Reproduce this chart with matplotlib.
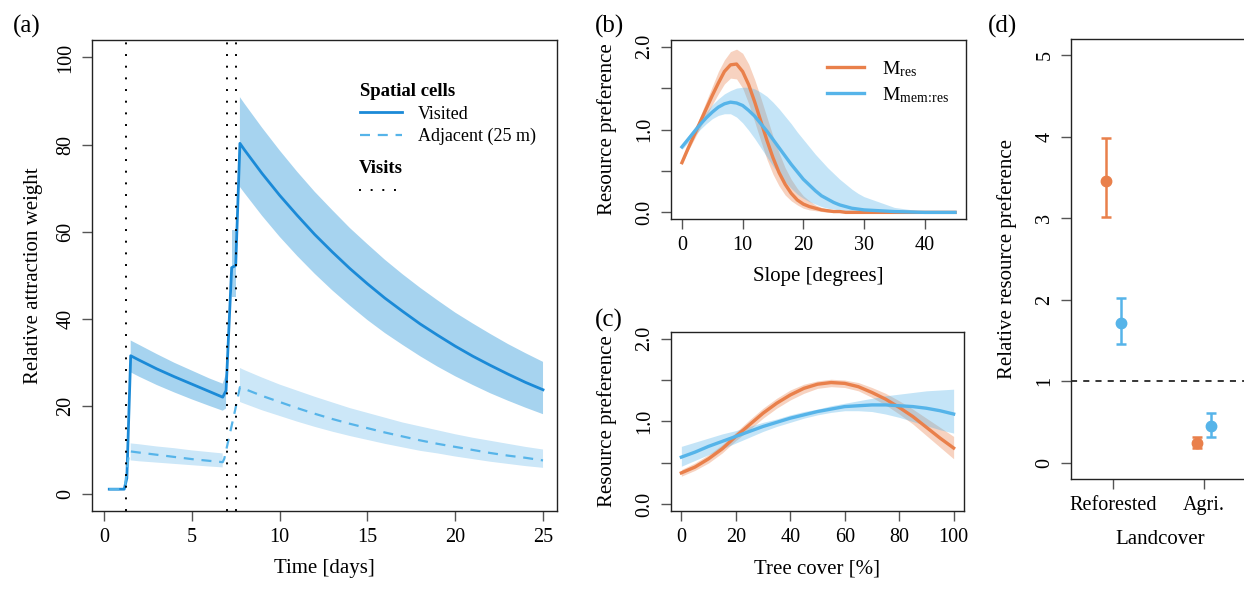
import numpy as np
import matplotlib
matplotlib.use("Agg")
import matplotlib.pyplot as plt
from matplotlib.lines import Line2D

plt.rcParams['font.family'] = ['Liberation Serif', 'DejaVu Serif']
plt.rcParams['mathtext.default'] = 'regular'

nan = np.nan

# ---- (a) attraction weight over time ----
t_vis = [0.3, 1.0, 1.15, 1.3, 1.52, 2, 3, 4, 5, 6, 6.76, 6.95, 7.27, 7.5, 7.74,
         8, 9, 10, 11, 12, 13, 14, 15, 16, 17, 18, 19, 20, 21, 22, 23, 24, 25]
visited = [1, 1, 1.0, 3.5, 31.6, 30.6, 28.6, 26.8, 25.1, 23.4, 22.1, 23.6, 51.8, 52.3, 80.3,
           78.8, 73.4, 68.4, 63.8, 59.4, 55.4, 51.6, 48.1, 44.8, 41.8, 38.9, 36.3, 33.8,
           31.5, 29.4, 27.4, 25.5, 23.8]

t_vis_band = [1.52, 2, 3, 4, 5, 6, 6.76, 6.95, nan, 7.27, 7.5, nan, 7.74,
              8, 9, 10, 11, 12, 13, 14, 15, 16, 17, 18, 19, 20, 21, 22, 23, 24, 25]
visited_hi = [35.1, 34.1, 32.0, 30.0, 28.2, 26.4, 25.2, 27.5, nan, 60.5, 60.5, nan, 90.9,
              89.4, 83.9, 78.7, 73.8, 69.2, 65.0, 60.9, 57.2, 53.6, 50.3, 47.2, 44.3, 41.5,
              39.0, 36.6, 34.3, 32.2, 30.2]
visited_lo = [27.8, 26.8, 24.9, 23.2, 21.6, 20.1, 19.0, 19.5, nan, 45.0, 45.0, nan, 70.3,
              68.9, 63.7, 58.9, 54.5, 50.4, 46.6, 43.1, 39.8, 36.8, 34.1, 31.5, 29.1, 26.9,
              24.9, 23.0, 21.3, 19.7, 18.2]

t_adj = [0.3, 1.0, 1.2, 1.44, 2, 3, 4, 5, 6, 6.76, 6.85, 7.46, 7.74,
         8, 9, 10, 11, 12, 13, 14, 15, 16, 17, 18, 19, 20, 21, 22, 23, 24, 25]
adjacent = [1, 1, 2, 9.7, 9.4, 8.9, 8.4, 7.9, 7.5, 7.2, 8.0, 19.0, 24.4,
            24.0, 22.4, 21.0, 19.6, 18.3, 17.1, 16.0, 15.0, 14.0, 13.1, 12.2, 11.4, 10.7,
            10.0, 9.3, 8.7, 8.2, 7.6]

t_adj_band = [1.52, 2, 3, 4, 5, 6, 6.76, nan, 7.74,
              8, 9, 10, 11, 12, 13, 14, 15, 16, 17, 18, 19, 20, 21, 22, 23, 24, 25]
adjacent_hi = [11.5, 11.3, 10.8, 10.4, 9.9, 9.5, 9.2, nan, 28.8,
               28.3, 26.6, 25.0, 23.6, 22.2, 20.9, 19.6, 18.5, 17.4, 16.3, 15.4, 14.5, 13.6,
               12.8, 12.1, 11.4, 10.7, 10.1]
adjacent_lo = [7.6, 7.4, 7.1, 6.8, 6.5, 6.2, 6.0, nan, 21.0,
               20.6, 19.1, 17.8, 16.5, 15.3, 14.2, 13.2, 12.3, 11.4, 10.6, 9.8, 9.2, 8.5,
               7.9, 7.3, 6.8, 6.3, 5.9]

visits = [1.25, 7.0, 7.5]

# ---- (b) slope ----
slope = [0, 1, 2, 3, 4, 5, 6, 7, 8, 9, 10, 11, 12, 13, 14, 15, 16, 17, 18, 19, 20,
         21, 22, 23, 24, 25, 26, 27, 28, 29, 30, 35, 40, 45]
slope_res = [0.60, 0.77, 0.93, 1.09, 1.25, 1.41, 1.56, 1.70, 1.78, 1.79, 1.70, 1.54, 1.33,
             1.10, 0.87, 0.66, 0.48, 0.34, 0.23, 0.15, 0.10, 0.07, 0.05, 0.03, 0.02, 0.01,
             0.01, 0.0, 0.0, 0.0, 0.0, 0.0, 0.0, 0.0]
slope_res_hi = [0.62, 0.80, 0.98, 1.16, 1.34, 1.52, 1.70, 1.84, 1.94, 1.97, 1.92, 1.79, 1.60,
                1.38, 1.15, 0.92, 0.72, 0.54, 0.40, 0.29, 0.20, 0.14, 0.09, 0.06, 0.04, 0.03,
                0.02, 0.01, 0.01, 0.0, 0.0, 0.0, 0.0, 0.0]
slope_res_lo = [0.58, 0.74, 0.88, 1.02, 1.16, 1.30, 1.43, 1.55, 1.62, 1.61, 1.50, 1.31, 1.09,
                0.86, 0.64, 0.46, 0.32, 0.21, 0.14, 0.09, 0.05, 0.03, 0.02, 0.01, 0.0, 0.0,
                0.0, 0.0, 0.0, 0.0, 0.0, 0.0, 0.0, 0.0]
slope_mem = [0.79, 0.88, 0.97, 1.06, 1.14, 1.21, 1.27, 1.31, 1.33, 1.32, 1.29, 1.23, 1.16,
             1.07, 0.98, 0.88, 0.78, 0.68, 0.58, 0.49, 0.40, 0.33, 0.26, 0.20, 0.16, 0.12,
             0.09, 0.07, 0.05, 0.04, 0.03, 0.01, 0.0, 0.0]
slope_mem_hi = [0.82, 0.92, 1.02, 1.12, 1.21, 1.30, 1.37, 1.43, 1.47, 1.50, 1.51, 1.51, 1.49,
                1.45, 1.40, 1.33, 1.25, 1.16, 1.07, 0.97, 0.88, 0.79, 0.70, 0.62, 0.54, 0.47,
                0.40, 0.34, 0.28, 0.23, 0.19, 0.06, 0.01, 0.0]
slope_mem_lo = [0.76, 0.84, 0.92, 1.00, 1.07, 1.13, 1.17, 1.19, 1.19, 1.15, 1.08, 0.99, 0.89,
                0.78, 0.67, 0.56, 0.46, 0.37, 0.29, 0.22, 0.17, 0.13, 0.10, 0.07, 0.05, 0.04,
                0.03, 0.02, 0.01, 0.01, 0.0, 0.0, 0.0, 0.0]

# ---- (c) tree cover ----
tree = [0, 5, 10, 15, 20, 25, 30, 35, 40, 45, 50, 55, 60, 65, 70, 75, 80, 85, 90, 95, 100]
tree_res = [0.38, 0.45, 0.55, 0.67, 0.82, 0.96, 1.10, 1.22, 1.32, 1.40, 1.45, 1.47, 1.46,
            1.42, 1.35, 1.27, 1.17, 1.06, 0.93, 0.80, 0.68]
tree_res_hi = [0.42, 0.50, 0.60, 0.72, 0.87, 1.02, 1.16, 1.28, 1.38, 1.45, 1.49, 1.51, 1.50,
               1.47, 1.41, 1.34, 1.25, 1.15, 1.04, 0.93, 0.82]
tree_res_lo = [0.34, 0.41, 0.50, 0.62, 0.77, 0.90, 1.04, 1.16, 1.26, 1.34, 1.40, 1.42, 1.41,
               1.37, 1.29, 1.20, 1.09, 0.97, 0.83, 0.69, 0.55]
tree_mem = [0.57, 0.63, 0.70, 0.76, 0.82, 0.88, 0.94, 0.99, 1.04, 1.08, 1.12, 1.15, 1.18,
            1.19, 1.20, 1.20, 1.19, 1.18, 1.16, 1.13, 1.09]
tree_mem_hi = [0.70, 0.75, 0.80, 0.85, 0.89, 0.94, 0.99, 1.03, 1.08, 1.12, 1.15, 1.19, 1.22,
               1.25, 1.28, 1.31, 1.33, 1.35, 1.37, 1.38, 1.39]
tree_mem_lo = [0.46, 0.53, 0.60, 0.67, 0.74, 0.81, 0.88, 0.94, 0.99, 1.04, 1.08, 1.11, 1.13,
               1.13, 1.12, 1.09, 1.05, 1.00, 0.95, 0.90, 0.86]

# ---- (d) landcover ----
landcover = ['Reforested', 'Agri.']
lc_res = [3.46, 0.24]
lc_res_lo = [3.01, 0.18]
lc_res_hi = [3.98, 0.32]
lc_mem = [1.72, 0.45]
lc_mem_lo = [1.46, 0.32]
lc_mem_hi = [2.02, 0.61]

# colours
vis_col = '#1b8ad7'
vis_band = '#a6d3ef'
adj_col = '#56b4e9'
adj_band = '#cce7f8'
orange = '#e9804b'
blue = '#56b4e9'

TS = 14.5   # tick labels
LS = 15     # axis labels
fig = plt.figure(figsize=(12.44, 5.90), dpi=100)


def style(ax):
    for s in ax.spines.values():
        s.set_linewidth(1.0)
        s.set_color('#222222')
    ax.tick_params(direction='out', length=7, width=1, color='#555555',
                   labelsize=TS, pad=5)
    ax.tick_params(axis='y', labelrotation=90)
    for lab in ax.get_yticklabels():
        lab.set_va('center')


# (a)
ax = fig.add_axes([0.0740, 0.1339, 0.3738, 0.7983])
ax.fill_between(t_vis_band, visited_lo, visited_hi, color=vis_band, lw=0)
ax.fill_between(t_adj_band, adjacent_lo, adjacent_hi, color=adj_band, lw=0)
ax.plot(t_vis, visited, color=vis_col, lw=2.0)
ax.plot(t_adj, adjacent, color=adj_col, lw=1.6, ls=(0, (4.5, 3.5)))
for v in visits:
    ax.axvline(v, color='black', lw=1.4, ls=(0, (1, 5)))
ax.set_xlim(-0.68, 25.8)
ax.set_ylim(-4, 104)
ax.set_xticks([0, 5, 10, 15, 20, 25])
ax.set_yticks([0, 20, 40, 60, 80, 100])
style(ax)
ax.set_xlabel('Time [days]', fontsize=LS, labelpad=9)
ax.set_ylabel('Relative attraction weight', fontsize=LS, labelpad=10)
h1 = [Line2D([], [], color=vis_col, lw=2.0),
      Line2D([], [], color=adj_col, lw=1.6, ls=(0, (4.5, 3.5)))]
leg1 = ax.legend(h1, ['Visited', 'Adjacent (25 m)'], title='Spatial cells',
                 loc='upper left', bbox_to_anchor=(0.55, 0.935), frameon=False,
                 alignment='left', fontsize=13,
                 title_fontproperties={'weight': 'bold', 'size': 13.5},
                 handlelength=2.3, handletextpad=0.9, labelspacing=0.3, borderpad=0.2)
ax.add_artist(leg1)
h2 = [Line2D([], [], color='black', lw=1.4, ls=(0, (1, 5)))]
ax.legend(h2, [''], title='Visits', loc='upper left', bbox_to_anchor=(0.55, 0.768),
          frameon=False, alignment='left', fontsize=11,
          title_fontproperties={'weight': 'bold', 'size': 13.5},
          handlelength=2.6, handletextpad=0.9, borderpad=0.2)
fig.text(0.010, 0.975, '(a)', fontsize=18, va='top', ha='left')

# (b)
ax = fig.add_axes([0.5394, 0.6288, 0.2371, 0.3034])
ax.fill_between(slope, slope_res_lo, slope_res_hi, color=orange, alpha=0.35, lw=0)
ax.fill_between(slope, slope_mem_lo, slope_mem_hi, color=blue, alpha=0.35, lw=0)
ax.plot(slope, slope_res, color=orange, lw=2.4, label=r'M$_\mathregular{res}$')
ax.plot(slope, slope_mem, color=blue, lw=2.4, label=r'M$_\mathregular{mem\!:\!res}$')
ax.set_xlim(-1.8, 46.8)
ax.set_ylim(-0.08, 2.08)
ax.set_xticks([0, 10, 20, 30, 40])
ax.set_yticks([0, 0.5, 1.0, 1.5, 2.0])
ax.set_yticklabels(['0.0', '', '1.0', '', '2.0'])
style(ax)
ax.set_xlabel('Slope [degrees]', fontsize=LS, labelpad=9)
ax.set_ylabel('Resource preference', fontsize=LS, labelpad=13)
ax.legend(loc='upper right', frameon=False, fontsize=14, handlelength=1.9,
          handletextpad=0.9, labelspacing=0.3, bbox_to_anchor=(1.0, 0.99))
fig.text(0.478, 0.975, '(b)', fontsize=18, va='top', ha='left')

# (c)
ax = fig.add_axes([0.5394, 0.1339, 0.2355, 0.3034])
ax.fill_between(tree, tree_res_lo, tree_res_hi, color=orange, alpha=0.35, lw=0)
ax.fill_between(tree, tree_mem_lo, tree_mem_hi, color=blue, alpha=0.35, lw=0)
ax.plot(tree, tree_res, color=orange, lw=2.4)
ax.plot(tree, tree_mem, color=blue, lw=2.4)
ax.set_xlim(-3.8, 103.8)
ax.set_ylim(-0.08, 2.08)
ax.set_xticks([0, 20, 40, 60, 80, 100])
ax.set_yticks([0, 0.5, 1.0, 1.5, 2.0])
ax.set_yticklabels(['0.0', '', '1.0', '', '2.0'])
style(ax)
ax.set_xlabel('Tree cover [%]', fontsize=LS, labelpad=9)
ax.set_ylabel('Resource preference', fontsize=LS, labelpad=13)
fig.text(0.478, 0.477, '(c)', fontsize=18, va='top', ha='left')

# (d)
ax = fig.add_axes([0.8609, 0.1881, 0.1431, 0.7458])
xpos = np.arange(1, len(landcover) + 1)
ax.axhline(1, color='black', lw=1.1, ls=(0, (4, 4)))
ax.errorbar(xpos - 0.08, lc_res,
            yerr=[np.subtract(lc_res, lc_res_lo), np.subtract(lc_res_hi, lc_res)],
            fmt='o', color=orange, ms=7.5, elinewidth=1.8, capsize=3.5, capthick=1.8)
ax.errorbar(xpos + 0.08, lc_mem,
            yerr=[np.subtract(lc_mem, lc_mem_lo), np.subtract(lc_mem_hi, lc_mem)],
            fmt='o', color=blue, ms=7.5, elinewidth=1.8, capsize=3.5, capthick=1.8)
ax.set_xlim(0.53, 2.5)
ax.set_ylim(-0.2, 5.2)
ax.set_xticks(xpos)
ax.set_xticklabels(landcover)
ax.set_yticks([0, 1, 2, 3, 4, 5])
style(ax)
ax.set_xlabel('Landcover', fontsize=LS, labelpad=11)
ax.set_ylabel('Relative resource preference', fontsize=LS, labelpad=13)
fig.text(0.794, 0.975, '(d)', fontsize=18, va='top', ha='left')

fig.savefig('out.png', dpi=100)
